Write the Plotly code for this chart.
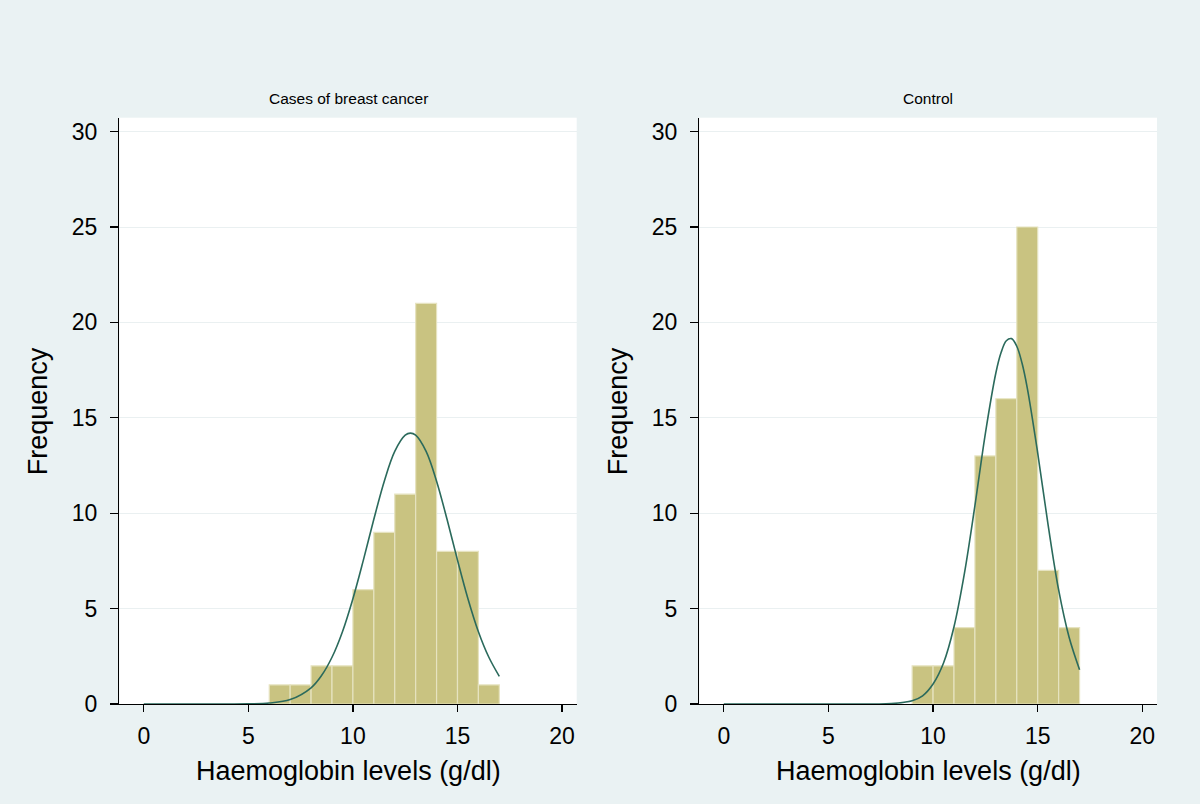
import plotly.graph_objects as go

# ---- data ----
bin_left_cases = [6, 7, 8, 9, 10, 11, 12, 13, 14, 15, 16]
freq_cases = [1, 1, 2, 2, 6, 9, 11, 21, 8, 8, 1]

bin_left_control = [9, 10, 11, 12, 13, 14, 15, 16]
freq_control = [2, 2, 4, 13, 16, 25, 7, 4]

bin_width = 1.0

# normal-density overlay (x, frequency)
curve_x_cases = [0, 4, 5, 6, 7, 8, 8.5, 9, 9.5, 10, 10.5, 11, 11.5, 12, 12.5, 12.75,
                 13, 13.5, 14, 14.5, 15, 15.5, 16, 16.5, 17]
curve_y_cases = [0, 0.001, 0.008, 0.05, 0.23, 0.85, 1.49, 2.45, 3.79, 5.52, 7.54, 9.68,
                 11.68, 13.24, 14.09, 14.2, 14.09, 13.24, 11.68, 9.68, 7.54, 5.52, 3.79,
                 2.45, 1.45]

curve_x_control = [0, 7, 8, 9, 9.5, 10, 10.5, 11, 11.5, 12, 12.5, 13, 13.25, 13.5, 13.75,
                   14, 14.25, 14.5, 15, 15.5, 16, 16.5, 17]
curve_y_control = [0, 0.001, 0.02, 0.17, 0.43, 1.05, 2.15, 4.05, 6.86, 10.4, 14.19, 17.35,
                   18.42, 19.04, 19.15, 18.75, 17.87, 16.57, 13.15, 9.36, 5.98, 3.5, 1.8]

panel_titles = ["Cases of breast cancer", "Control"]
x_title = "Haemoglobin levels (g/dl)"
y_title = "Frequency"
x_ticks = [0, 5, 10, 15, 20]
y_ticks = [0, 5, 10, 15, 20, 25, 30]

# ---- style ----
BG = "#EAF2F3"
BAR = "#C9C381"
BAR_LINE = "#E6E3C0"
CURVE = "#2B6A5C"
FONT = "Liberation Sans, Arial, Helvetica, sans-serif"

fig = go.Figure()

panels = [
    (bin_left_cases, freq_cases, curve_x_cases, curve_y_cases, "x", "y"),
    (bin_left_control, freq_control, curve_x_control, curve_y_control, "x2", "y2"),
]
for lefts, freqs, cx, cy, xa, ya in panels:
    centers = [l + bin_width / 2 for l in lefts]
    fig.add_trace(go.Bar(
        x=centers, y=freqs, width=[bin_width] * len(centers),
        marker=dict(color=BAR, line=dict(color=BAR_LINE, width=1.2)),
        xaxis=xa, yaxis=ya, showlegend=False, hoverinfo="skip",
    ))
    fig.add_trace(go.Scatter(
        x=cx, y=cy, mode="lines", line=dict(color=CURVE, width=1.6, shape="spline"),
        xaxis=xa, yaxis=ya, showlegend=False, hoverinfo="skip",
    ))

W, H = 1200, 804
x_domains = [[119.3 / W, 576.7 / W], [699.3 / W, 1157 / W]]
y_domain = [(H - 704) / H, (H - 117.7) / H]

xaxis_common = dict(
    range=[-1.17, 20.7], tickvals=x_ticks, ticks="outside", ticklen=7, tickwidth=1.2,
    tickcolor="black", showline=True, linecolor="black", linewidth=1.4,
    showgrid=False, zeroline=False, tickfont=dict(family=FONT, size=23, color="black"),
    ticklabelstandoff=4, fixedrange=True, automargin=False,
)
yaxis_common = dict(
    range=[0, 30.73], tickvals=y_ticks, ticks="outside", ticklen=8, tickwidth=1.2,
    tickcolor="black", showline=True, linecolor="black", linewidth=1.4,
    showgrid=True, gridcolor="#EAF0F1", gridwidth=1, zeroline=False,
    tickfont=dict(family=FONT, size=23, color="black"), ticklabelstandoff=8,
    fixedrange=True, automargin=False,
)

fig.update_layout(
    template="none",
    width=W, height=H,
    margin=dict(l=0, r=0, t=0, b=0, pad=0, autoexpand=False),
    paper_bgcolor=BG, plot_bgcolor="white",
    bargap=0,
    xaxis=dict(domain=x_domains[0], anchor="y", **xaxis_common),
    yaxis=dict(domain=y_domain, anchor="x", **yaxis_common),
    xaxis2=dict(domain=x_domains[1], anchor="y2", **xaxis_common),
    yaxis2=dict(domain=y_domain, anchor="x2", **yaxis_common),
)

annotations = []
for i, (xd, title) in enumerate(zip(x_domains, panel_titles)):
    cx = (xd[0] + xd[1]) / 2
    annotations.append(dict(text=title, x=cx, y=(H - 99) / H, xref="paper", yref="paper",
                            xanchor="center", yanchor="middle", showarrow=False,
                            font=dict(family=FONT, size=15.5, color="black")))
    annotations.append(dict(text=x_title, x=cx, y=(H - 771) / H, xref="paper", yref="paper",
                            xanchor="center", yanchor="middle", showarrow=False,
                            font=dict(family=FONT, size=27, color="black")))
    annotations.append(dict(text=y_title, x=(xd[0] * W - 81) / W, y=(H - 411) / H,
                            xref="paper", yref="paper", xanchor="center", yanchor="middle",
                            textangle=-90, showarrow=False,
                            font=dict(family=FONT, size=27, color="black")))
fig.update_layout(annotations=annotations)

fig.write_html(
    "out.html",
    config={"displayModeBar": False, "staticPlot": True},
    post_script=(
        "var gd=document.getElementById('{plot_id}');"
        "gd.style.position='fixed';gd.style.top='0px';gd.style.left='0px';"
        "document.body.style.margin='0';document.body.style.padding='0';"
        "document.body.style.overflow='hidden';"
        "document.documentElement.style.overflow='hidden';"
        "document.body.style.background='#EAF2F3';"
    ),
)
